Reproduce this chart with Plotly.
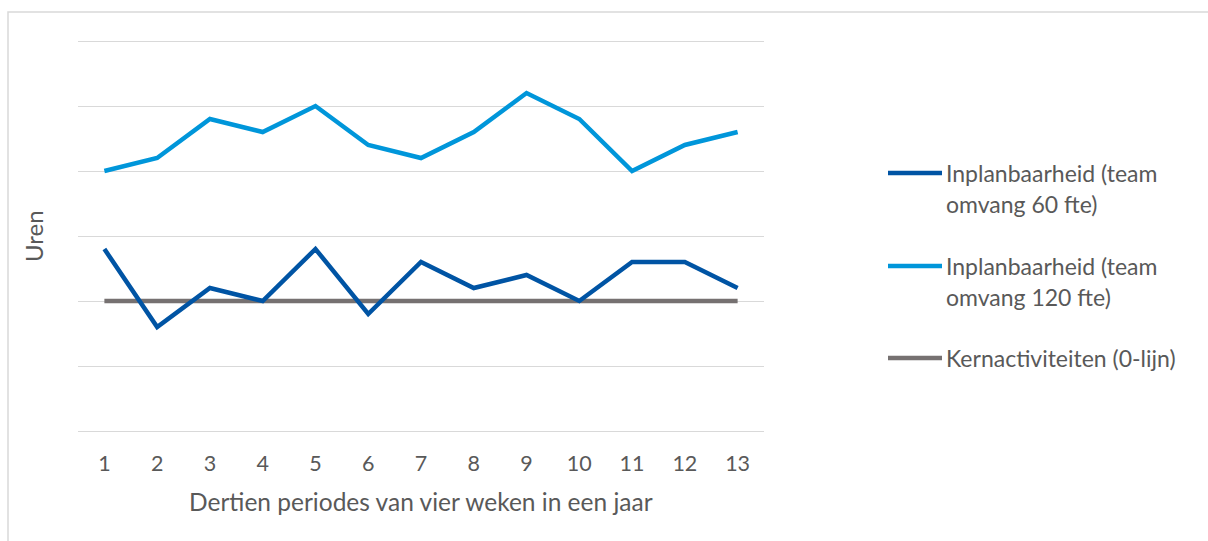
import plotly.graph_objects as go

periods = list(range(1, 14))
team60 = [0.8, -0.4, 0.2, 0.0, 0.8, -0.2, 0.6, 0.2, 0.4, 0.0, 0.6, 0.6, 0.2]
team120 = [2.0, 2.2, 2.8, 2.6, 3.0, 2.4, 2.2, 2.6, 3.2, 2.8, 2.0, 2.4, 2.6]
kern = [0] * 13

names = ["Inplanbaarheid (team omvang 60 fte)",
         "Inplanbaarheid (team omvang 120 fte)",
         "Kernactiviteiten (0-lijn)"]
legend_lines = [["Inplanbaarheid (team", "omvang 60 fte)"],
                ["Inplanbaarheid (team", "omvang 120 fte)"],
                ["Kernactiviteiten (0-lijn)"]]
colors = ["#0054A4", "#0096DA", "#767171"]

FONT = "Lato"
TXT = "#595959"

fig = go.Figure()
order = [2, 1, 0]
series = [team60, team120, kern]
for i in order:
    fig.add_trace(go.Scatter(x=periods, y=series[i], mode="lines", name=names[i],
                             line=dict(color=colors[i], width=4.5), showlegend=False))

# plot area padded by 2px top and bottom so the edge gridlines are drawn
L, R, T, B = 78, 444, 39, 108
W, H = 1208, 541
pw, ph = W - L - R, H - T - B

def px(x):
    return (x - L) / pw

def py(y):
    return (H - B - y) / ph

shapes = [dict(type="rect", xref="paper", yref="paper", x0=px(8), x1=px(1214),
               y0=py(548), y1=py(12), line=dict(color="#D9D9D9", width=1.5),
               fillcolor="rgba(0,0,0,0)", layer="below")]
annotations = []
legend_y = [173, 266, 358]
for k in range(3):
    y0 = legend_y[k]
    shapes.append(dict(type="line", xref="paper", yref="paper", x0=px(888), x1=px(942),
                       y0=py(y0), y1=py(y0), line=dict(color=colors[k], width=4.5)))
    for j, t in enumerate(legend_lines[k]):
        annotations.append(dict(text=t, xref="paper", yref="paper", x=px(944), y=py(y0 + 31 * j),
                                xanchor="left", yanchor="middle", showarrow=False,
                                font=dict(family=FONT, size=23, color=TXT)))

annotations.append(dict(text="Uren", xref="paper", yref="paper", x=px(33), y=0.5,
                        textangle=-90, xanchor="center", yanchor="middle", showarrow=False,
                        font=dict(family=FONT, size=24, color=TXT)))
annotations.append(dict(text="Dertien periodes van vier weken in een jaar", xref="paper",
                        yref="paper", x=0.5, y=py(502), xanchor="center", yanchor="middle",
                        showarrow=False, font=dict(family=FONT, size=24.5, color=TXT)))

fig.update_layout(
    width=W, height=H,
    margin=dict(l=L, r=R, t=T, b=B),
    paper_bgcolor="white", plot_bgcolor="white",
    showlegend=False,
    shapes=shapes, annotations=annotations,
    xaxis=dict(range=[0.5, 13.5], tickvals=periods, ticktext=[str(p) for p in periods],
               showgrid=False, zeroline=False, showline=False, ticks="",
               ticklabelstandoff=15,
               tickfont=dict(family=FONT, size=21.5, color=TXT), fixedrange=True),
    yaxis=dict(range=[-2 - 2 / 65, 4 + 2 / 65], tickvals=[-2, -1, 0, 1, 2, 3, 4],
               showticklabels=False, showgrid=True, gridcolor="#D9D9D9", gridwidth=1.2,
               zeroline=False, showline=False, fixedrange=True),
)

fig.write_html("out.html")
